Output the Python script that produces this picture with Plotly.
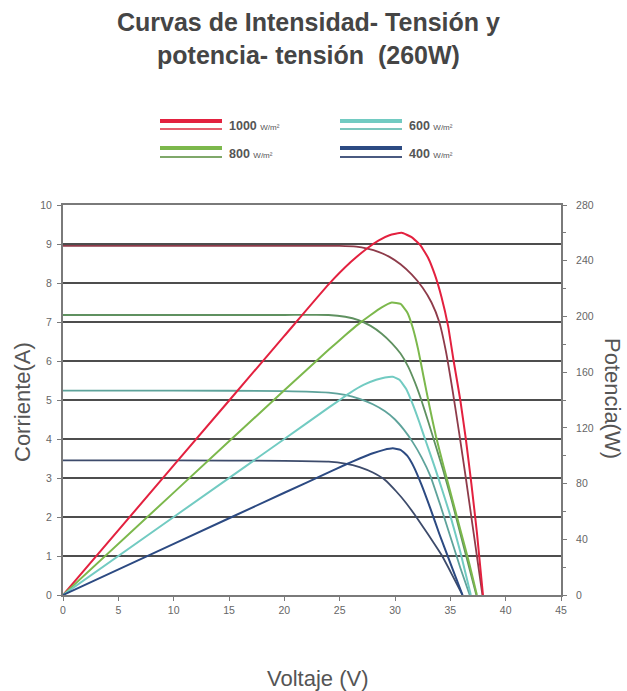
import plotly.graph_objects as go

# ---------------- data ----------------
# I-V curves (Corriente, A)
v_iv_1000 = [0, 10, 20, 25, 26.5, 27.5, 28.5, 29.5, 30.5, 31.5, 32.5, 33.3, 34.0, 34.6, 35.2, 35.8, 36.4, 37.0, 37.5, 37.9]
i_iv_1000 = [8.95, 8.95, 8.95, 8.95, 8.93, 8.88, 8.8, 8.67, 8.48, 8.22, 7.88, 7.5, 7.0, 6.25, 5.25, 4.15, 3.0, 1.8, 0.8, 0]

v_iv_800 = [0, 10, 20, 24, 25.5, 26.7, 27.8, 28.8, 29.7, 30.5, 31.2, 31.8, 32.4, 33.0, 33.6, 34.3, 35.1, 36.2, 37.35]
i_iv_800 = [7.18, 7.18, 7.18, 7.18, 7.135, 7.05, 6.9, 6.7, 6.46, 6.19, 5.85, 5.45, 4.98, 4.45, 3.9, 3.25, 2.45, 1.25, 0]

v_iv_600 = [0, 10, 20, 24, 25.5, 26.8, 28, 29.1, 30.0, 30.8, 31.6, 32.4, 33.2, 34.1, 35.0, 35.9, 36.75]
i_iv_600 = [5.24, 5.24, 5.23, 5.19, 5.13, 5.03, 4.89, 4.71, 4.5, 4.24, 3.92, 3.53, 3.05, 2.3, 1.5, 0.7, 0]

v_iv_400 = [0, 10, 20, 24, 25.5, 26.8, 28, 29.1, 30.1, 31.0, 31.8, 32.6, 33.4, 34.2, 35.1, 36.1]
i_iv_400 = [3.45, 3.45, 3.44, 3.42, 3.37, 3.28, 3.14, 2.95, 2.66, 2.36, 2.05, 1.72, 1.38, 1.03, 0.55, 0]

# P-V curves (Potencia, W)
v_p_1000 = [0, 10, 20, 24, 26, 27.5, 28.5, 29.5, 30.6, 31.5, 32.3, 33.0, 33.6, 34.2, 34.8, 35.3, 35.9, 36.4, 36.9, 37.4, 37.95]
p_p_1000 = [0, 93, 186, 223, 239, 249, 254.5, 258.3, 260, 257, 251, 242, 230, 214, 193, 168, 140, 112, 80, 45, 0]

v_p_800 = [0, 10, 20, 24, 25.5, 26.7, 27.8, 28.8, 29.7, 30.5, 31.1, 31.6, 32.1, 32.6, 33.1, 33.7, 34.4, 35.2, 36.0, 36.7, 37.4]
p_p_800 = [0, 73.5, 147, 176, 186.5, 194.5, 201, 206.5, 210, 209, 203, 192, 176, 156, 136, 114, 92, 68, 44, 23, 0]

v_p_600 = [0, 10, 20, 24, 25.9, 27.2, 28.3, 29.1, 29.8, 30.4, 31.0, 31.6, 32.2, 32.8, 33.5, 34.2, 35.0, 35.9, 36.85]
p_p_600 = [0, 56, 112, 134.5, 145, 151, 154.5, 156.2, 156.7, 154.5, 148, 137, 124, 110, 94, 77, 57, 31, 0]

v_p_400 = [0, 10, 20, 24, 25.5, 26.8, 28, 29, 29.8, 30.5, 31.1, 31.7, 32.4, 33.2, 34.0, 34.9, 35.5, 36.1]
p_p_400 = [0, 36.7, 73.4, 88, 93.5, 98, 101.8, 104.2, 105.3, 104.2, 100, 92, 79, 62, 44, 25, 12.5, 0]

x_ticks = [0, 5, 10, 15, 20, 25, 30, 35, 40, 45]
y_left_ticks = list(range(0, 11))
y_right_ticks = [0, 40, 80, 120, 160, 200, 240, 280]

legend_labels = ["1000", "800", "600", "400"]

# ---------------- styles ----------------
col_p = {"1000": "#e3213f", "800": "#7cb84c", "600": "#72cbc2", "400": "#2c4a82"}
col_iv = {"1000": "#8e3b4a", "800": "#5f9160", "600": "#5ea39b", "400": "#3d4b6b"}
col_leg_thin = {"1000": "#e4606f", "800": "#7fa86a", "600": "#7cc6bd", "400": "#4a5a80"}
FONT = "Liberation Sans, Arial, sans-serif"
GRAY = "#666666"

fig = go.Figure()

iv_sets = [("1000", v_iv_1000, i_iv_1000), ("800", v_iv_800, i_iv_800),
           ("600", v_iv_600, i_iv_600), ("400", v_iv_400, i_iv_400)]
p_sets = [("1000", v_p_1000, p_p_1000), ("800", v_p_800, p_p_800),
          ("600", v_p_600, p_p_600), ("400", v_p_400, p_p_400)]

for k, vx, iy in iv_sets:
    fig.add_trace(go.Scatter(x=vx, y=iy, mode="lines", yaxis="y",
                             line=dict(color=col_iv[k], width=1.8, shape="spline", smoothing=0.4),
                             showlegend=False, hoverinfo="skip"))
for k, vx, py in p_sets:
    fig.add_trace(go.Scatter(x=vx, y=py, mode="lines", yaxis="y2",
                             line=dict(color=col_p[k], width=2.0, shape="spline", smoothing=0.4),
                             showlegend=False, hoverinfo="skip"))

fig.update_layout(
    width=627, height=691,
    margin=dict(l=63, r=66, t=205, b=96),
    paper_bgcolor="white", plot_bgcolor="white",
    font=dict(family=FONT, color=GRAY, size=10),
    xaxis=dict(range=[0, 45], tickvals=x_ticks, showgrid=False, zeroline=False,
               showline=True, mirror=True, linecolor="#7a7a7a", linewidth=2,
               ticks="outside", ticklen=4, tickcolor="#7a7a7a",
               tickfont=dict(size=10.5, color=GRAY)),
    yaxis=dict(range=[0, 10], tickvals=y_left_ticks, showgrid=True, gridcolor="#4d4d4d",
               gridwidth=1.8, zeroline=False, showline=True, linecolor="#7a7a7a", linewidth=2,
               ticks="outside", ticklen=4, tickcolor="#7a7a7a", ticklabelstandoff=3,
               tickfont=dict(size=10.5, color=GRAY)),
    yaxis2=dict(range=[0, 280], tickvals=y_right_ticks, overlaying="y", side="right",
                showgrid=False, zeroline=False, showline=True, linecolor="#7a7a7a", linewidth=2,
                ticks="outside", ticklen=4, tickcolor="#7a7a7a", ticklabelstandoff=7,
                minor=dict(dtick=20, ticks="outside", ticklen=3, tickcolor="#7a7a7a"),
                tickfont=dict(size=10.5, color=GRAY)),
)

# pixel -> paper conversion for the plot area (63..561 x 205..595)
W0, W1, H0, H1 = 63, 561, 205, 595
def px2paper(x, y):
    return (x - W0) / (W1 - W0), (H1 - y) / (H1 - H0)

ann_out = []
tx, ty = px2paper(308, 39)
ann_out.append(dict(text="<b>Curvas de Intensidad- Tensión y<br>potencia- tensión  (260W)</b>",
                    x=tx, y=ty, xref="paper", yref="paper", showarrow=False,
                    xanchor="center", yanchor="middle",
                    font=dict(family=FONT, size=25, color="#454545")))
for text, x, y, ang in [("Corriente(A)", 22, 402, -90), ("Potencia(W)", 613, 398, 90),
                        ("Voltaje (V)", 318, 678, 0)]:
    ax, ay = px2paper(x, y)
    ann_out.append(dict(text=text, x=ax, y=ay, xref="paper", yref="paper", showarrow=False,
                        textangle=ang, xanchor="center", yanchor="middle",
                        font=dict(family=FONT, size=22, color="#555555")))

# custom legend: thick bright line over thin line, plus label
shapes = []
legend_pos = {"1000": (160, 121, 129), "600": (340, 121, 129),
              "800": (160, 148, 157), "400": (340, 148, 157)}
for k in legend_labels:
    x0p, yt, yb = legend_pos[k]
    xa, ya = px2paper(x0p, yt)
    xb, _ = px2paper(x0p + 62, yt)
    _, yb2 = px2paper(x0p, yb)
    shapes.append(dict(type="line", xref="paper", yref="paper", x0=xa, x1=xb, y0=ya, y1=ya,
                       line=dict(color=col_p[k], width=4)))
    shapes.append(dict(type="line", xref="paper", yref="paper", x0=xa, x1=xb, y0=yb2, y1=yb2,
                       line=dict(color=col_leg_thin[k], width=1.8)))
    lx, ly = px2paper(x0p + 67, (yt + yb) / 2 + 1)
    ann_out.append(dict(text=f"<b>{k}</b> <span style='font-size:8px'>W/m²</span>",
                        x=lx, y=ly, xref="paper", yref="paper", showarrow=False,
                        xanchor="left", yanchor="middle",
                        font=dict(family=FONT, size=12.5, color="#555555")))

fig.update_layout(annotations=ann_out, shapes=shapes)
fig.write_html("out.html")
